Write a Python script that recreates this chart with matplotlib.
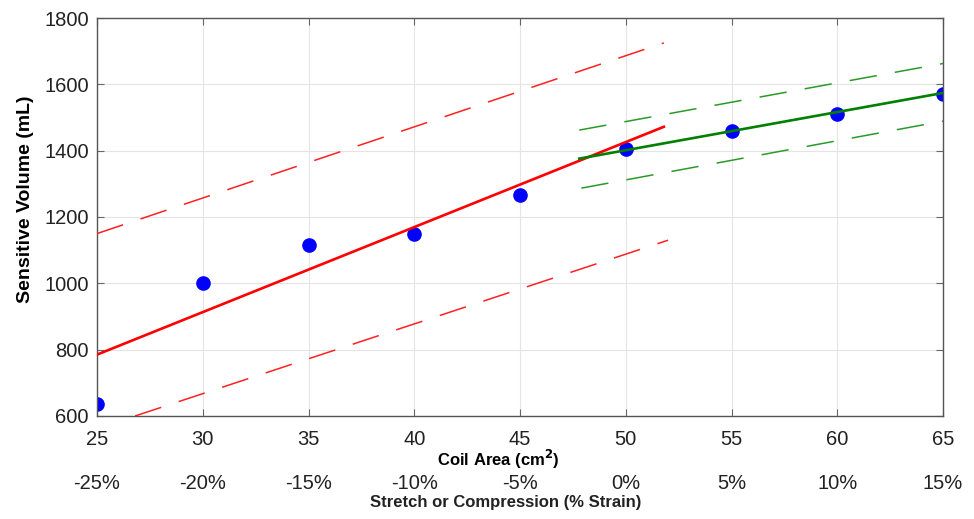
import numpy as np
import matplotlib
matplotlib.use('Agg')
import matplotlib.pyplot as plt

plt.rcParams['font.family'] = ['Liberation Sans', 'DejaVu Sans']

# measured points
coil_area = [25, 30, 35, 40, 45, 50, 55, 60, 65]
sens_volume = [635, 1000, 1115, 1150, 1265, 1405, 1460, 1510, 1570]

# red fit (stretch region) and its bounds
red_fit_x = [25, 51.8]
red_fit_y = [785, 1472]
red_upper_x = [25, 51.8]
red_upper_y = [1150, 1725]
red_lower_x = [26.8, 52.0]
red_lower_y = [600, 1130]

# green fit (compression region) and its bounds
green_fit_x = [47.8, 65]
green_fit_y = [1376, 1574]
green_upper_x = [47.8, 65.1]
green_upper_y = [1462, 1664]
green_lower_x = [47.9, 65]
green_lower_y = [1287, 1489]

area_ticks = [25, 30, 35, 40, 45, 50, 55, 60, 65]
strain_labels = ['-25%', '-20%', '-15%', '-10%', '-5%', '0%', '5%', '10%', '15%']
vol_ticks = [600, 800, 1000, 1200, 1400, 1600, 1800]

fig = plt.figure(figsize=(9.74, 5.19), dpi=100)
ax = fig.add_axes([0.0996, 0.1985, 0.8686, 0.7668])

ax.plot(coil_area, sens_volume, 'o', color='#0000ff', markersize=9.5, zorder=2)

dash = (18, 12)
ax.plot(red_fit_x, red_fit_y, color='#ff0000', lw=1.9, zorder=3)
ax.plot(red_upper_x, red_upper_y, color='#ff2020', lw=1.1, dashes=dash, zorder=3)
ax.plot(red_lower_x, red_lower_y, color='#ff2020', lw=1.1, dashes=dash, zorder=3)
ax.plot(green_fit_x, green_fit_y, color='#008000', lw=1.9, zorder=3)
ax.plot(green_upper_x, green_upper_y, color='#2a9a2a', lw=1.1, dashes=dash, zorder=3)
ax.plot(green_lower_x, green_lower_y, color='#2a9a2a', lw=1.1, dashes=dash, zorder=3)

ax.set_xlim(25, 65)
ax.set_ylim(600, 1800)
ax.set_xticks(area_ticks)
ax.set_yticks(vol_ticks)
ax.grid(True, color='#e4e4e4', lw=0.8)
ax.set_axisbelow(True)
ax.tick_params(direction='in', top=True, right=True, length=5, width=0.8,
               color='#666666', labelsize=14.5, labelcolor='#222222')
ax.tick_params(axis='x', pad=10)
ax.tick_params(axis='y', pad=6)
for s in ax.spines.values():
    s.set_color('#555555')
    s.set_linewidth(1.0)

ax.set_xlabel('Coil Area (cm$^{\\mathbf{2}}$)', fontsize=12, fontweight='bold')
ax.xaxis.set_label_coords(0.474, -0.08)
ax.set_ylabel('Sensitive Volume (mL)', fontsize=14, fontweight='bold')
ax.yaxis.set_label_coords(-0.074, 0.545)

sec = ax.secondary_xaxis(-0.145, functions=(lambda x: x - 50, lambda x: x + 50))
sec.set_xticks([a - 50 for a in area_ticks])
sec.set_xticklabels(strain_labels)
sec.spines['bottom'].set_visible(False)
sec.tick_params(length=0, labelsize=14.5, labelcolor='#222222', pad=0)

# second axis title, placed in figure coords below the strain labels
fig.text(0.5195, 0.0463, 'Stretch or Compression (% Strain)', fontsize=12,
         fontweight='bold', ha='center', va='top', color='#222222')

fig.savefig('out.png', dpi=100)
